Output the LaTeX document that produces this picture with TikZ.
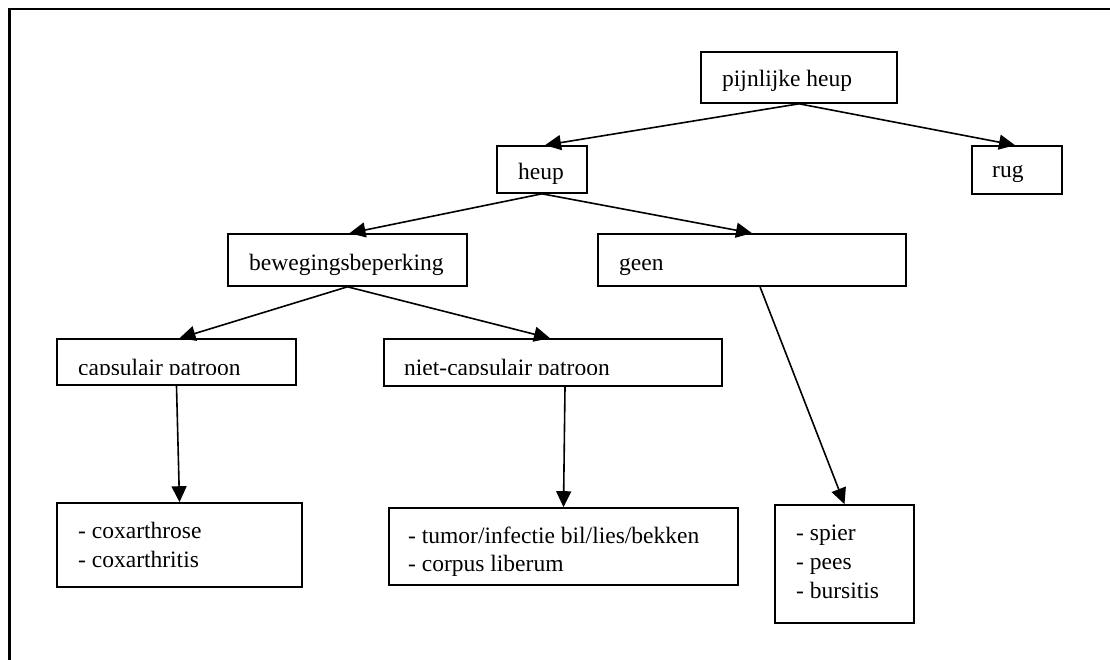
\documentclass[tikz,border=0pt]{standalone}
\usepackage{fontspec}
\setmainfont{Liberation Serif}
\usetikzlibrary{arrows.meta}
\begin{document}
\begin{tikzpicture}[x=1pt,y=-1pt,
  box/.style n args={2}{draw, line width=1.6pt, rectangle, inner sep=0pt, minimum width=#1pt, minimum height=#2pt},
  lbl/.style={anchor=base west, inner sep=0pt, font=\fontsize{23.5}{28}\selectfont},
  arr/.style={line width=1.6pt, -{Triangle[length=16pt,width=15pt]}},
  frame/.style={line width=2.4pt}]
\useasboundingbox (0,0) rectangle (1110,660);
% outer frame
\coordinate (fbl) at (9.5,662);
\coordinate (ftl) at (9.5,9.2);
\coordinate (ftr) at (1112,9.2);
\draw[frame] (fbl) -- (ftl) -- (ftr);

% boxes
\node[box={196}{51}] (pijn) at (799,77.5) {};
\node[box={90}{48}] (rug) at (1017,170) {};
\node[box={90}{47}] (heup) at (542,169.5) {};
\node[box={239}{52}] (bew) at (347.5,260) {};
\node[box={308}{52}] (geen) at (752,260) {};
\node[box={239}{46}] (cap) at (176.5,362) {};
\node[box={338}{47}] (niet) at (553,362.5) {};
\node[box={245}{84}] (cox) at (179.5,545) {};
\node[box={349}{77}] (tum) at (563.5,546.5) {};
\node[box={139}{118}] (spier) at (844.5,564) {};

% texts
\node[lbl] (tpijn) at (722,87) {pijnlijke heup};
\node[lbl] (trug) at (992,178) {rug};
\node[lbl] (theup) at (518,180) {heup};
\node[lbl] (tbew) at (249,270) {bewegingsbeperking};
\node[lbl] (tgeen) at (619,270) {geen};
\begin{scope}
  \clip (cap.north west) rectangle ([yshift=11.5pt]cap.south east);
  \node[lbl] (tcap) at (78,375) {capsulair patroon};
\end{scope}
\begin{scope}
  \clip (niet.north west) rectangle ([yshift=12pt]niet.south east);
  \node[lbl] (tniet) at (404,375) {niet-capsulair patroon};
\end{scope}
\node[lbl] (tcox1) at (78,538) {- coxarthrose};
\node[lbl] (tcox2) at (78,567) {- coxarthritis};
\node[lbl] (ttum1) at (408,543) {- tumor/infectie bil/lies/bekken};
\node[lbl] (ttum2) at (408,571) {- corpus liberum};
\node[lbl] (tsp1) at (796,540) {- spier};
\node[lbl] (tsp2) at (796,569) {- pees};
\node[lbl] (tsp3) at (796,598) {- bursitis};

% connectors
\draw[arr] (pijn.south) -- ([xshift=3pt]heup.north);
\draw[arr] (pijn.south) -- ([xshift=-2pt]rug.north);
\draw[arr] (heup.south) -- ([xshift=2pt]bew.north);
\draw[arr] (heup.south) -- (geen.north);
\draw[arr] (bew.south) -- ([xshift=3pt]cap.north);
\draw[arr] (bew.south) -- ([xshift=-3pt]niet.north);
\draw[arr] (cap.south) -- (cox.north);
\draw[arr] ([xshift=12pt]niet.south) -- (tum.north);
\draw[arr] ([xshift=8pt]geen.south) -- (spier.north);
\end{tikzpicture}
\end{document}
